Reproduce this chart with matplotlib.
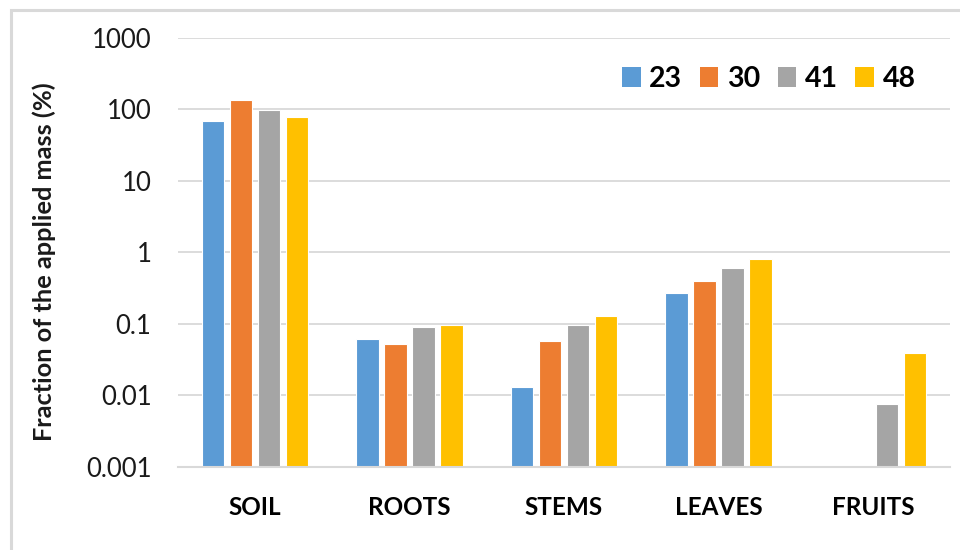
import numpy as np
import matplotlib
matplotlib.use("Agg")
import matplotlib.pyplot as plt
from matplotlib.patches import Patch, Rectangle

# Distribution of the applied mass across plant compartments (log scale)
categories = ["SOIL", "ROOTS", "STEMS", "LEAVES", "FRUITS"]
series_names = ["23", "30", "41", "48"]
values_23 = [69, 0.062, 0.0133, 0.274, np.nan]
values_30 = [135, 0.052, 0.057, 0.40, np.nan]
values_41 = [98, 0.090, 0.098, 0.60, 0.0077]
values_48 = [79, 0.098, 0.129, 0.80, 0.039]
y_ticks = [0.001, 0.01, 0.1, 1, 10, 100, 1000]
y_tick_labels = ["0.001", "0.01", "0.1", "1", "10", "100", "1000"]

colors = ["#5B9BD5", "#ED7D31", "#A5A5A5", "#FFC000"]
grid_color = "#D9D9D9"
font = ["Lato", "DejaVu Sans"]
plt.rcParams["font.family"] = font

fig = plt.figure(figsize=(9.6, 5.5), dpi=100)
ax = fig.add_axes([178 / 960, 1 - 467 / 550, (950 - 178) / 960, (467 - 37.7) / 550])

x = np.arange(len(categories))
slot = 0.181
width = 0.145
all_series = [values_23, values_30, values_41, values_48]
for i, (vals, name, c) in enumerate(zip(all_series, series_names, colors)):
    offs = (i - 1.5) * slot
    ax.bar(x + offs, vals, width=width, color=c, edgecolor="white",
           linewidth=0.8, label=name, zorder=3)

ax.set_yscale("log")
ax.set_ylim(y_ticks[0], y_ticks[-1])
ax.set_xlim(-0.5, len(categories) - 0.5)
ax.set_yticks(y_ticks)
ax.set_yticklabels(y_tick_labels)
ax.yaxis.set_minor_locator(matplotlib.ticker.NullLocator())
ax.set_xticks(x)
ax.set_xticklabels(categories, fontweight="bold")

ax.tick_params(axis="y", length=0, pad=19, labelsize=18.5, labelcolor="#1a1a1a")
ax.tick_params(axis="x", length=0, pad=21, labelsize=17.5, labelcolor="#000000")
ax.grid(axis="y", color=grid_color, linewidth=1.3, zorder=0)
for s in ["left", "right", "top"]:
    ax.spines[s].set_visible(False)
ax.spines["bottom"].set_color(grid_color)
ax.spines["bottom"].set_linewidth(1.5)
ax.spines["bottom"].set_zorder(4)

fig.text(44 / 960, 1 - 262 / 550, "Fraction of the applied mass (%)",
         rotation=90, ha="center", va="center", fontsize=18.3,
         fontweight="bold", color="#1a1a1a")

handles = [Patch(facecolor=c, edgecolor="none") for c in colors]
leg = fig.legend(handles, series_names, loc="center left",
                 bbox_to_anchor=(622 / 960, 1 - 79 / 550),
                 bbox_transform=fig.transFigure, ncol=4, frameon=False,
                 borderaxespad=0, borderpad=0,
                 handlelength=0.65, handleheight=0.65,
                 handletextpad=0.3, columnspacing=0.62,
                 prop={"family": font, "weight": "bold", "size": 20.5})

# Light outer frame of the chart area
fig.patches.append(Rectangle((11 / 960, -0.2), 2.0, (1 - 10 / 550) + 0.2,
                             transform=fig.transFigure, fill=False,
                             edgecolor=grid_color, linewidth=2.2))

fig.savefig("out.png", dpi=100)
